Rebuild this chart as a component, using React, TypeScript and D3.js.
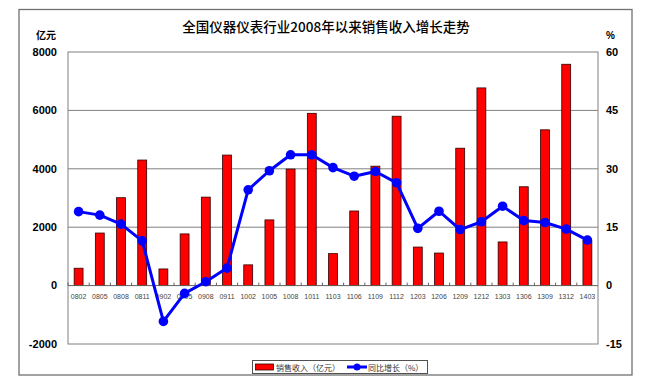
import React from 'react'
import * as d3 from 'd3'

const categories = [
  '0802', '0805', '0808', '0811', '0902', '0905', '0908', '0911', '1002', '1005',
  '1008', '1011', '1103', '1106', '1109', '1112', '1203', '1206', '1209', '1212',
  '1303', '1306', '1309', '1312', '1403',
]
// 销售收入（亿元）
const revenue = [
  595, 1800, 3010, 4300, 570, 1770, 3030, 4470, 710, 2250,
  3990, 5900, 1095, 2555, 4090, 5800, 1320, 1115, 4705, 6770,
  1495, 3385, 5335, 7580, 1540,
]
// 同比增长（%）
const growth = [
  19.0, 18.1, 15.8, 11.5, -9.2, -2.0, 1.0, 4.5, 24.6, 29.5,
  33.6, 33.6, 30.3, 28.1, 29.3, 26.4, 14.7, 19.1, 14.4, 16.4,
  20.4, 16.7, 16.2, 14.5, 11.7,
]
const leftTicks = [-2000, 0, 2000, 4000, 6000, 8000]
const rightTicks = [-15, 0, 15, 30, 45, 60]

const W = 654
const H = 384
const plot = { left: 68, right: 598, top: 52, bottom: 344 }

const numFont = '"Liberation Sans", Arial, sans-serif'
const cjkFont = '"Noto Sans CJK SC", sans-serif'

export default function App() {
  const x = d3.scaleBand<string>().domain(categories).range([plot.left, plot.right]).padding(0)
  const yL = d3.scaleLinear().domain([-2000, 8000]).range([plot.bottom, plot.top])
  const yR = d3.scaleLinear().domain([-15, 60]).range([plot.bottom, plot.top])
  const bw = x.bandwidth()
  const barW = bw * 0.42
  const cx = (c: string) => (x(c) as number) + bw / 2

  const line = d3.line<number>()
    .x((_, i) => cx(categories[i]))
    .y(d => yR(d))

  const y0 = yL(0)

  return (
    <div style={{ position: 'absolute', left: 0, top: 0 }}>
      <svg width={W} height={H} style={{ display: 'block', background: '#fff' }}>
        {/* outer frame */}
        <rect x={19} y={9.5} width={613} height={365.5} fill="none" stroke="#707070" strokeWidth={1.3} />

        <text x={326} y={32} textAnchor="middle" fontFamily={cjkFont} fontSize={13.5} fontWeight={500} fill="#000">
          全国仪器仪表行业2008年以来销售收入增长走势
        </text>
        <text x={56} y={39} textAnchor="end" fontFamily={cjkFont} fontSize={10} fontWeight={700} fill="#000">亿元</text>
        <text x={606} y={39} textAnchor="start" fontFamily={numFont} fontSize={10} fontWeight={700} fill="#000">%</text>

        {/* gridlines */}
        {leftTicks.filter(t => t !== 0 && t !== -2000 && t !== 8000).map(t => (
          <line key={t} x1={plot.left} x2={plot.right} y1={yL(t)} y2={yL(t)} stroke="#808080" strokeWidth={1} />
        ))}
        {/* plot area border */}
        <rect x={plot.left} y={plot.top} width={plot.right - plot.left} height={plot.bottom - plot.top}
          fill="none" stroke="#808080" strokeWidth={1} />

        {/* left axis labels */}
        {leftTicks.map(t => (
          <text key={t} x={57} y={yL(t)} dy="0.35em" textAnchor="end" fontFamily={numFont}
            fontSize={11} fontWeight={700} fill="#000">{t}</text>
        ))}
        {/* right axis labels */}
        {rightTicks.map(t => (
          <text key={t} x={606} y={yR(t)} dy="0.35em" textAnchor="start" fontFamily={numFont}
            fontSize={11} fontWeight={700} fill="#000">{t}</text>
        ))}

        {/* bars */}
        {categories.map((c, i) => (
          <rect key={c} x={cx(c) - barW / 2} y={yL(revenue[i])} width={barW} height={y0 - yL(revenue[i])}
            fill="#ff0000" stroke="#300000" strokeWidth={0.8} />
        ))}

        {/* zero axis and ticks */}
        <line x1={plot.left} x2={plot.right} y1={y0} y2={y0} stroke="#606060" strokeWidth={1} />
        {categories.map(c => (
          <line key={c} x1={(x(c) as number)} x2={(x(c) as number)} y1={y0} y2={y0 - 3} stroke="#606060" strokeWidth={1} />
        ))}
        {categories.map(c => (
          <text key={c} x={cx(c)} y={y0 + 13} textAnchor="middle" fontFamily={numFont} fontSize={7} fill="#444">{c}</text>
        ))}

        {/* growth line */}
        <path d={line(growth) || ''} fill="none" stroke="#0000ff" strokeWidth={3} strokeLinejoin="round" />
        {growth.map((g, i) => (
          <circle key={i} cx={cx(categories[i])} cy={yR(g)} r={4.8} fill="#0000ff" />
        ))}

        {/* legend */}
        <rect x={252.5} y={360.5} width={175} height={13} fill="#fff" stroke="#505050" strokeWidth={1} />
        <rect x={255.5} y={364} width={18} height={6} fill="#ff0000" stroke="#300000" strokeWidth={0.8} />
        <text x={276} y={370.5} fontFamily={cjkFont} fontSize={8} fill="#333">销售收入（亿元）</text>
        <line x1={347} x2={367} y1={367} y2={367} stroke="#0000ff" strokeWidth={3} />
        <circle cx={357} cy={367} r={3.5} fill="#0000ff" />
        <text x={368} y={370.5} fontFamily={cjkFont} fontSize={8} fill="#333">同比增长（%）</text>
      </svg>
    </div>
  )
}
